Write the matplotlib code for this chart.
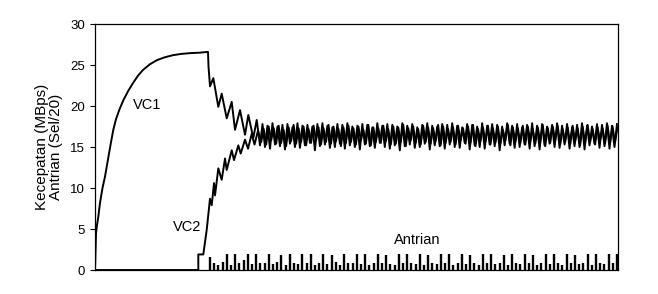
import numpy as np
import matplotlib
matplotlib.use('Agg')
import matplotlib.pyplot as plt

plt.rcParams['font.family'] = ['Liberation Sans', 'DejaVu Sans']

# VC1: naik, lalu turun ke keadaan tunak
vc1_t = [0, 0.5, 1, 2, 3.3, 5, 7.5, 10, 13, 16, 18.3, 21, 24.5, 28.3, 33, 38, 43, 48,
         55, 62, 70, 78, 86, 95, 104, 113, 113.5, 115,
         118.3, 123.3, 126.7, 131.7, 136.7, 140, 145, 150, 153.3, 158.3, 161.7]
vc1_v = [0, 2.5, 4.5, 5.5, 6.5, 8.2, 10.0, 11.4, 13.5, 15.6, 17.1, 18.4, 19.6, 20.7, 21.8,
         22.8, 23.7, 24.4, 25.1, 25.6, 25.95, 26.2, 26.35, 26.45, 26.5, 26.6, 24.8, 22.4,
         23.4, 19.9, 21.5, 18.5, 20.5, 17.1, 19.5, 16.5, 18.9, 16.1, 18.3]

# VC2: mulai kemudian
vc2_t = [0, 103.3, 103.3, 108.3, 111.7, 115, 116.7, 119, 120, 123.3, 126.7, 130,
         131.7, 136.7, 139, 143.3, 145.7, 150, 153, 156.7, 159.5, 163]
vc2_v = [0, 0, 1.9, 1.9, 4.9, 8.7, 7.9, 10.6, 9.1, 12.4, 11.0, 13.6,
         12.2, 14.6, 13.4, 15.2, 14.2, 15.9, 14.8, 16.6, 15.3, 17.0]

# keadaan tunak (lembah / puncak)
vc1_lo = [15.2, 15.0, 14.8, 15.3, 15.1, 14.7, 15.4, 15.0, 14.9, 15.2, 15.5, 14.6,
          15.1, 15.3, 14.9, 15.0, 15.4, 14.8, 15.2, 15.0, 14.7, 15.3, 15.1, 14.9,
          15.5, 15.0, 14.8, 15.2, 14.6, 15.1, 15.3, 14.9, 15.0, 15.4, 14.7, 15.2,
          15.1, 14.8, 15.3, 15.0, 14.9, 15.5, 14.7, 15.2, 15.0, 14.8, 15.3, 15.1,
          14.6, 15.2, 15.4, 14.9, 15.0, 15.3, 14.8, 15.1, 14.7, 15.2, 15.4, 15.0,
          14.9, 15.3, 14.8, 15.1, 15.0, 14.7, 15.2, 15.4, 14.9, 15.1, 14.8, 15.0]
vc1_hi = [17.8, 17.6, 17.9, 17.5, 17.7, 17.8, 17.4, 17.9, 17.6, 17.7, 17.5, 17.8,
          17.9, 17.6, 17.4, 17.8, 17.7, 17.9, 17.5, 17.6, 17.8, 17.7, 17.4, 17.9,
          17.6, 17.8, 17.7, 17.5, 17.9, 17.6, 17.8, 17.4, 17.7, 17.9, 17.6, 17.5,
          17.8, 17.7, 17.9, 17.6, 17.4, 17.8, 17.7, 17.5, 17.9, 17.6, 17.8, 17.7,
          17.5, 17.9, 17.6, 17.8, 17.4, 17.7, 17.9, 17.6, 17.8, 17.5, 17.7, 17.9,
          17.6, 17.8, 17.4, 17.7, 17.9, 17.6, 17.5, 17.8, 17.7, 17.9, 17.6, 17.8]
vc2_lo = [15.6, 15.3, 15.8, 15.4, 15.5, 15.1, 15.7, 15.4, 15.6, 15.2, 15.5, 15.8,
          15.3, 15.6, 15.4, 15.7, 15.1, 15.5, 15.6, 15.3, 15.8, 15.4, 15.2, 15.6,
          15.5, 15.7, 15.3, 15.4, 15.6, 15.1, 15.8, 15.5, 15.3, 15.6, 15.4, 15.7,
          15.2, 15.5, 15.6, 15.3, 15.8, 15.4, 15.5, 15.1, 15.7, 15.6, 15.3, 15.5,
          15.4, 15.8, 15.2, 15.6, 15.5, 15.3, 15.7, 15.4, 15.6, 15.1, 15.5, 15.8,
          15.3, 15.6, 15.4, 15.7, 15.2, 15.5, 15.6, 15.3, 15.8, 15.4, 15.5, 15.6]
vc2_hi = [17.2, 17.5, 17.3, 17.6, 17.1, 17.4, 17.7, 17.3, 17.5, 17.2, 17.6, 17.4,
          17.3, 17.7, 17.5, 17.2, 17.4, 17.6, 17.3, 17.5, 17.1, 17.7, 17.4, 17.3,
          17.6, 17.2, 17.5, 17.4, 17.7, 17.3, 17.5, 17.2, 17.6, 17.4, 17.3, 17.7,
          17.5, 17.2, 17.4, 17.6, 17.3, 17.5, 17.7, 17.2, 17.4, 17.6, 17.3, 17.5,
          17.1, 17.7, 17.4, 17.3, 17.6, 17.5, 17.2, 17.4, 17.7, 17.3, 17.5, 17.6,
          17.2, 17.4, 17.6, 17.3, 17.5, 17.7, 17.2, 17.4, 17.3, 17.6, 17.5, 17.4]

# antrian (Sel/20)
q_h = [1.6, 0.9, 0.6, 1.0, 1.9, 0.6, 1.9, 0.8, 1.2, 2.0, 0.7, 1.9,
       0.9, 0.8, 1.9, 0.7, 1.0, 1.8, 0.6, 1.9, 0.8, 0.7, 2.0, 0.9,
       1.9, 0.6, 0.8, 1.9, 0.7, 1.8, 1.0, 0.6, 2.0, 0.8, 0.9, 1.9,
       0.7, 1.9, 0.6, 0.8, 2.0, 0.9, 1.8, 0.7, 0.6, 1.9, 0.8, 2.0,
       0.9, 0.7, 1.9, 0.6, 1.8, 0.8, 0.7, 1.9, 0.9, 2.0, 0.6, 0.8,
       1.9, 0.7, 1.8, 0.9, 0.6, 2.0, 0.8, 1.9, 0.7, 0.9, 1.8, 0.6,
       2.0, 0.8, 0.7, 1.9, 0.9, 1.8, 0.6, 0.8, 2.0, 0.7, 1.9, 0.9,
       0.6, 1.9, 0.8, 1.8, 0.7, 0.9, 2.0, 0.6, 1.9, 0.8, 0.7, 1.9,
       0.8, 2.0]

n = min(len(vc1_lo), len(vc1_hi))
ss1 = np.column_stack([vc1_lo[:n], vc1_hi[:n]]).ravel()
t1 = np.linspace(165, 522, len(ss1))
m = min(len(vc2_lo), len(vc2_hi))
ss2 = np.column_stack([vc2_lo[:m], vc2_hi[:m]]).ravel()
t2 = np.linspace(166.2, 522.5, len(ss2))
q_t = np.linspace(115, 522, len(q_h))

fig = plt.figure(figsize=(6.58, 2.94), dpi=100)
ax = fig.add_axes([0.1444, 0.0816, 0.7948, 0.8367])

ax.plot(np.concatenate([vc1_t, t1]), np.concatenate([vc1_v, ss1]), color='black', lw=1.4)
ax.plot(np.concatenate([vc2_t, t2]), np.concatenate([vc2_v, ss2]), color='black', lw=1.4)
ax.vlines(q_t, 0, q_h, color='black', lw=1.7)

ax.text(52, 20.1, 'VC1', fontsize=10.5, ha='center', va='center')
ax.text(92, 5.3, 'VC2', fontsize=10.5, ha='center', va='center')
ax.text(322, 3.7, 'Antrian', fontsize=10.5, ha='center', va='center')

ax.set_xlim(0, 523)
ax.set_ylim(0, 30)
ax.set_yticks([0, 5, 10, 15, 20, 25, 30])
ax.set_xticks([])
ax.tick_params(axis='y', direction='out', length=3.6, width=0.8, labelsize=9.5, pad=3.5)
ax.set_ylabel('Kecepatan (MBps)\nAntrian (Sel/20)', fontsize=11, labelpad=5, linespacing=1.0)
for s in ax.spines.values():
    s.set_linewidth(0.9)

fig.savefig('out.png', dpi=100)
